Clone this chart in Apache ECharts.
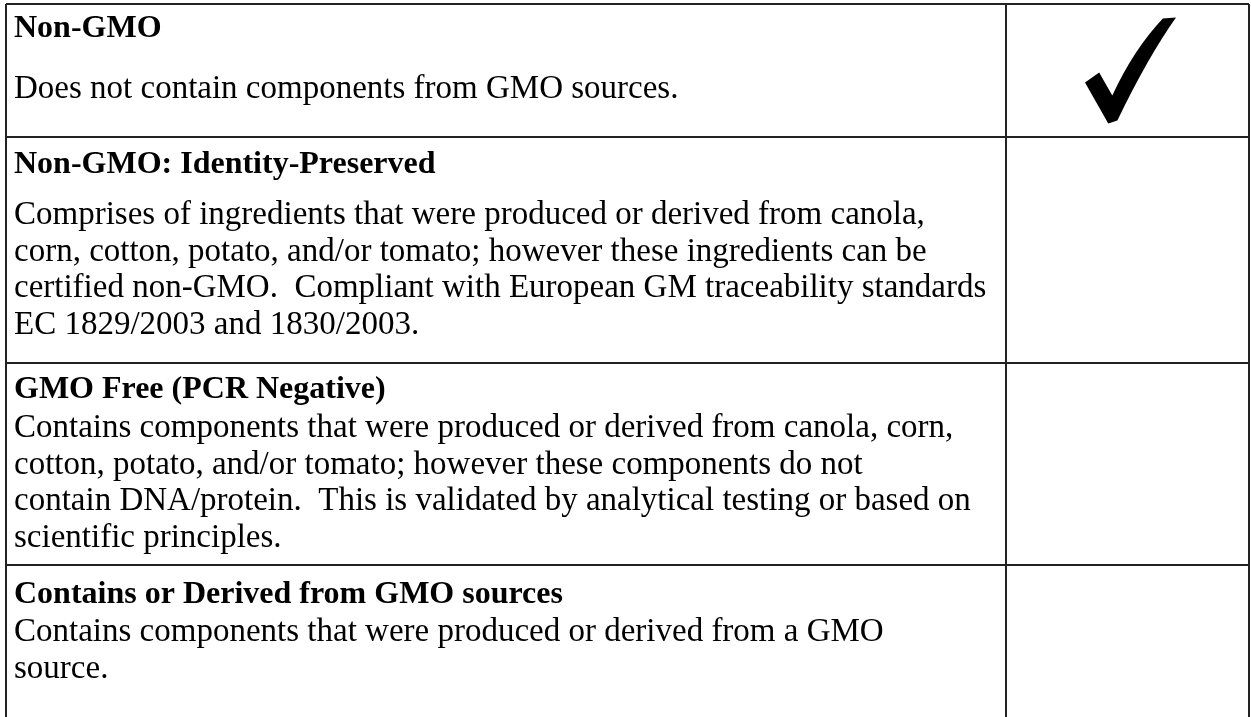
<!DOCTYPE html>
<html lang="en">
<head>
<meta charset="UTF-8">
<title>GMO status</title>
<script src="https://cdn.jsdelivr.net/npm/echarts@6/dist/echarts.min.js"></script>
<style>
    html, body {margin: 0; padding: 0; background: #fff;}
    #main {width: 1251px; height: 717px;}
</style>
</head>
<body>
<div id="main"></div>
<script>
var titles = ['Non-GMO', 'Non-GMO: Identity-Preserved', 'GMO Free (PCR Negative)', 'Contains or Derived from GMO sources'];
var descLines = [
    ['Does not contain components from GMO sources.'],
    ['Comprises of ingredients that were produced or derived from canola,',
     'corn, cotton, potato, and/or tomato; however these ingredients can be',
     'certified non-GMO.  Compliant with European GM traceability standards',
     'EC 1829/2003 and 1830/2003.'],
    ['Contains components that were produced or derived from canola, corn,',
     'cotton, potato, and/or tomato; however these components do not',
     'contain DNA/protein.  This is validated by analytical testing or based on',
     'scientific principles.'],
    ['Contains components that were produced or derived from a GMO',
     'source.']
];
var checked = [true, false, false, false];

// layout, in px of the page
var tableLeft = 6, tableRight = 1249, tableTop = 4, splitX = 1006;
var rowHeights = [133, 226, 202, 200];
var titleBase = [33, 36, 35, 38];   // title baseline from row top
var descBase = [94, 87, 74, 76];    // first text line baseline from row top
var lineGap = 36.6;
var textX = 14;
var fontSize = 33;
var titleSize = 32;
var fontFamily = '"Liberation Serif"';
var lineColor = '#222';
var checkW = 91, checkH = 106;
var checkPath = 'M0,65 L14,55 L27,78 Q48,32 77,1 L90,0 Q62,40 32,103 L23,106 Z';

var myChart = echarts.init(document.getElementById('main'));

function txt(x, y, s, bold) {
    var size = bold ? titleSize : fontSize;
    return {
        type: 'text',
        style: {
            x: x, y: y - 0.26 * size, text: s,
            font: (bold ? 'bold ' : '') + size + 'px ' + fontFamily,
            fill: '#000',
            textAlign: 'left', textVerticalAlign: 'middle'
        }
    };
}
function seg(a, b) {
    return {
        type: 'line',
        shape: {x1: a[0], y1: a[1], x2: b[0], y2: b[1]},
        style: {stroke: lineColor, lineWidth: 2}
    };
}

function renderRow(params, api) {
    var i = params.dataIndex;
    var top = tableTop;
    for (var k = 0; k < i; k++) top += rowHeights[k];
    var bottom = top + rowHeights[i];
    var children = [];
    children.push(seg(api.coord([tableLeft, top]), api.coord([tableRight, top])));
    children.push(seg(api.coord([tableLeft, top]), api.coord([tableLeft, bottom])));
    children.push(seg(api.coord([splitX, top]), api.coord([splitX, bottom])));
    children.push(seg(api.coord([tableRight, top]), api.coord([tableRight, bottom])));

    var tp = api.coord([textX, top + titleBase[i]]);
    children.push(txt(tp[0], tp[1], titles[i], true));
    var lines = descLines[i];
    for (var j = 0; j < lines.length; j++) {
        var p = api.coord([textX, top + descBase[i] + j * lineGap]);
        children.push(txt(p[0], p[1], lines[j], false));
    }
    if (checked[i]) {
        var c = api.coord([(splitX + tableRight) / 2 + 3, top + rowHeights[i] / 2]);
        children.push({
            type: 'path',
            shape: {pathData: checkPath, layout: 'cover', x: c[0] - checkW / 2, y: c[1] - checkH / 2, width: checkW, height: checkH},
            style: {fill: '#000'}
        });
    }
    return {type: 'group', children: children};
}

var option = {
    animation: false,
    grid: {left: 0, right: 0, top: 0, bottom: 0},
    xAxis: {type: 'value', min: 0, max: 1251, show: false},
    yAxis: {type: 'value', min: 0, max: 717, inverse: true, show: false},
    series: [{
        type: 'custom',
        renderItem: renderRow,
        clip: false,
        data: titles.map(function (t, i) { return [i]; })
    }]
};
myChart.setOption(option);
</script>
</body>
</html>
